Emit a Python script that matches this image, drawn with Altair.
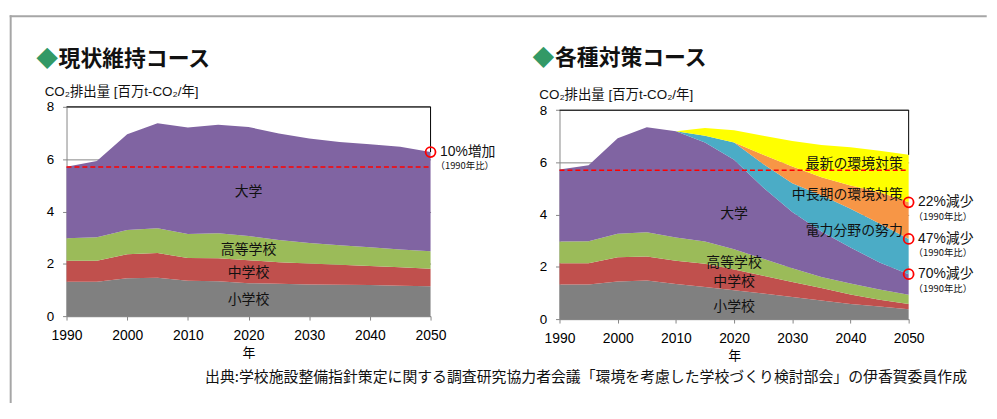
import altair as alt
import pandas as pd

# ---------------- data ----------------
years = [1990, 1995, 2000, 2005, 2010, 2015, 2020, 2025, 2030, 2035, 2040, 2045, 2050]
tick_years = years
y_ticks = [0, 2, 4, 6, 8]

series_names = ["小学校", "中学校", "高等学校", "大学",
                "電力分野の努力", "中長期の環境対策", "最新の環境対策"]
series_colors = ["#808080", "#C0504D", "#9BBB59", "#8064A2",
                 "#4BACC6", "#F79646", "#FFFF00"]

# 現状維持コース (million t-CO2 / year)
cur_elem = [1.31, 1.31, 1.45, 1.47, 1.35, 1.33, 1.26, 1.24, 1.21, 1.20, 1.19, 1.16, 1.14]
cur_jhs = [0.81, 0.81, 0.91, 0.94, 0.87, 0.88, 0.88, 0.82, 0.80, 0.76, 0.73, 0.71, 0.67]
cur_hs = [0.86, 0.89, 0.93, 0.95, 0.92, 0.96, 0.92, 0.85, 0.78, 0.75, 0.71, 0.68, 0.67]
cur_univ = [2.73, 2.92, 3.66, 4.01, 4.07, 4.14, 4.17, 4.07, 4.00, 3.95, 3.94, 3.92, 3.79]

# 各種対策コース
pol_elem = [1.32, 1.32, 1.44, 1.48, 1.34, 1.23, 1.10, 0.98, 0.85, 0.71, 0.58, 0.48, 0.38]
pol_jhs = [0.82, 0.82, 0.93, 0.92, 0.89, 0.89, 0.80, 0.68, 0.57, 0.48, 0.36, 0.26, 0.20]
pol_hs = [0.83, 0.84, 0.90, 0.93, 0.89, 0.85, 0.77, 0.65, 0.53, 0.42, 0.42, 0.39, 0.35]
pol_univ = [2.76, 2.91, 3.66, 4.02, 4.07, 3.79, 3.43, 2.73, 2.15, 1.74, 1.38, 1.04, 0.79]
pol_power = [0.0, 0.0, 0.0, 0.0, 0.0, 0.26, 0.66, 0.90, 1.10, 1.39, 1.49, 1.49, 1.35]
pol_mid = [0.0, 0.0, 0.0, 0.0, 0.0, 0.0, 0.0, 0.35, 0.64, 0.69, 0.89, 1.21, 1.40]
pol_new = [0.0, 0.0, 0.0, 0.0, 0.0, 0.30, 0.47, 0.73, 0.98, 1.24, 1.46, 1.58, 1.82]

baseline_1990 = 5.7

cur_label_names = ["大学", "高等学校", "中学校", "小学校"]
cur_label_years = [2020, 2020, 2020, 2020]
cur_label_values = [4.75, 2.51, 1.63, 0.61]

pol_label_names = ["大学", "高等学校", "中学校", "小学校"]
pol_label_years = [2020, 2020, 2020, 2020]
pol_label_values = [4.01, 2.15, 1.43, 0.47]

pol_rlabel_names = ["最新の環境対策", "中長期の環境対策", "電力分野の努力"]
pol_rlabel_years = [2049, 2049, 2049]
pol_rlabel_values = [5.95, 4.75, 3.38]

cur_note_texts = ["10%増加"]
pol_note_texts = ["22%減少", "47%減少", "70%減少"]
note_sub = "（1990年比）"

# ---------------- helpers ----------------
FONT_LAT = "Liberation Sans, Noto Sans CJK JP"
FONT_JP = "Noto Sans CJK JP"
AXIS_GRAY = "#868686"
DUMMY = alt.Data(values=[{"a": 1}])


def long_table(columns):
    rows = []
    for k, (name, vals) in enumerate(zip(series_names, columns)):
        for yr, v in zip(years, vals):
            rows.append({"year": yr, "series": name, "value": v, "ord": k})
    return pd.DataFrame(rows)


def stacked_top(columns, idx):
    return sum(col[idx] for col in columns)


x_axis = alt.Axis(values=tick_years, format="d",
                  labelExpr="datum.value % 10 == 0 ? datum.label : ''",
                  tickSize=4, tickColor=AXIS_GRAY, domainColor=AXIS_GRAY,
                  labelFont="Liberation Sans", labelFontSize=14, labelColor="black",
                  labelPadding=8.5, labelFlush=False, labelOverlap=False,
                  title="年", titleFont=FONT_JP, titleFontSize=13,
                  titleFontWeight="normal", titleColor="black", titlePadding=4,
                  grid=False)
y_axis = alt.Axis(values=y_ticks, format="d", tickSize=4, tickColor=AXIS_GRAY,
                  domainColor=AXIS_GRAY, labelFont="Liberation Sans",
                  labelFontSize=13.5, labelColor="black", labelPadding=9,
                  grid=True, gridColor=AXIS_GRAY, title=None)


def panel(columns, width, height, yrange, title, title_pos, diamond_pos, ytitle_pos,
          center_labels, right_labels, notes, note_values, top_2050, extra=None):
    xs = alt.Scale(domain=[1990, 2050], nice=False, zero=False)
    if yrange is None:
        ys = alt.Scale(domain=[0, 8], nice=False)
    else:
        ys = alt.Scale(domain=[0, 8], nice=False, range=yrange)

    df = long_table(columns)

    area = alt.Chart(df).mark_area(interpolate="linear", opacity=1).encode(
        x=alt.X("year:Q", scale=xs, axis=x_axis),
        y=alt.Y("value:Q", stack="zero", scale=ys, axis=y_axis),
        color=alt.Color("series:N", scale=alt.Scale(domain=series_names, range=series_colors),
                        legend=None),
        order=alt.Order("ord:Q", sort="ascending"))

    frame_top = alt.Chart(pd.DataFrame({"x": [1990], "x2": [2050], "y": [8]})).mark_rule(
        color="black", strokeWidth=1).encode(
        x=alt.X("x:Q", scale=xs), x2="x2:Q",
        y=alt.Y("y:Q", scale=ys))
    frame_right = alt.Chart(pd.DataFrame({"x": [2050], "y": [top_2050], "y2": [8]})).mark_rule(
        color="black", strokeWidth=1).encode(
        x=alt.X("x:Q", scale=xs),
        y=alt.Y("y:Q", scale=ys), y2="y2:Q")

    dashed = alt.Chart(pd.DataFrame({"x": [1990], "x2": [2050], "y": [baseline_1990]})).mark_rule(
        color="#FF0000", strokeWidth=1.3, strokeDash=[5, 3]).encode(
        x=alt.X("x:Q", scale=xs), x2="x2:Q",
        y=alt.Y("y:Q", scale=ys))

    layers = [area, frame_top, frame_right, dashed]

    names, yrs, vals = center_labels
    layers.append(alt.Chart(pd.DataFrame({"year": yrs, "value": vals, "label": names})).mark_text(
        font=FONT_JP, fontSize=14, color="#111111", align="center", baseline="middle").encode(
        x=alt.X("year:Q", scale=xs), y=alt.Y("value:Q", scale=ys),
        text="label:N"))
    if right_labels is not None:
        names, yrs, vals = right_labels
        layers.append(alt.Chart(pd.DataFrame({"year": yrs, "value": vals, "label": names})).mark_text(
            font=FONT_JP, fontSize=14, color="#111111", align="right", baseline="middle").encode(
            x=alt.X("year:Q", scale=xs), y=alt.Y("value:Q", scale=ys),
            text="label:N"))

    ndf = pd.DataFrame({"year": [2050] * len(notes), "value": note_values, "label": notes,
                        "sub": [note_sub] * len(notes)})
    layers.append(alt.Chart(ndf).mark_point(shape="circle", filled=False, size=100,
                                            strokeWidth=1.8, color="#FF0000", opacity=1).encode(
        x=alt.X("year:Q", scale=xs), y=alt.Y("value:Q", scale=ys)))
    layers.append(alt.Chart(ndf).mark_text(font=FONT_LAT, fontSize=14, color="#111111",
                                           align="left", baseline="middle", dx=9.5).encode(
        x=alt.X("year:Q", scale=xs), y=alt.Y("value:Q", scale=ys),
        text="label:N"))
    layers.append(alt.Chart(ndf).mark_text(font=FONT_JP, fontSize=9.5, color="#111111",
                                           align="left", baseline="middle", dx=5, dy=14.5).encode(
        x=alt.X("year:Q", scale=xs), y=alt.Y("value:Q", scale=ys),
        text="sub:N"))

    layers.append(alt.Chart(DUMMY).mark_text(text="◆", font=FONT_JP, fontSize=22,
                                             color="#339966", align="center",
                                             baseline="middle").encode(
        x=alt.value(diamond_pos[0]), y=alt.value(diamond_pos[1])))
    layers.append(alt.Chart(DUMMY).mark_text(text=title, font=FONT_JP, fontSize=22,
                                             fontWeight="bold", color="#111111", align="left",
                                             baseline="middle").encode(
        x=alt.value(title_pos[0]), y=alt.value(title_pos[1])))
    layers.append(alt.Chart(DUMMY).mark_text(text="CO₂排出量 [百万t-CO₂/年]", font=FONT_LAT,
                                             fontSize=13.5, color="#111111", align="left",
                                             baseline="middle").encode(
        x=alt.value(ytitle_pos[0]), y=alt.value(ytitle_pos[1])))
    if extra:
        layers.extend(extra)
    return alt.layer(*layers).properties(width=width, height=height)


cur_cols = [cur_elem, cur_jhs, cur_hs, cur_univ,
            [0.0] * len(years), [0.0] * len(years), [0.0] * len(years)]
pol_cols = [pol_elem, pol_jhs, pol_hs, pol_univ, pol_power, pol_mid, pol_new]

cur_note_values = [stacked_top(cur_cols, -1)]
pol_note_values = [stacked_top(pol_cols[:6], -1), stacked_top(pol_cols[:5], -1),
                   stacked_top(pol_cols[:4], -1)]

BORDER = "#A6A6A6"
extra_left = [
    alt.Chart(DUMMY).mark_text(
        text="出典:学校施設整備指針策定に関する調査研究協力者会議「環境を考慮した学校づくり検討部会」の伊香賀委員作成",
        font=FONT_JP, fontSize=15, color="#111111", align="left", baseline="middle").encode(
        x=alt.value(139.7), y=alt.value(272.5)),
    alt.Chart(DUMMY).mark_rule(color=BORDER, strokeWidth=2).encode(
        x=alt.value(-56.3), y=alt.value(-92.3), y2=alt.value(298.7)),
    alt.Chart(DUMMY).mark_rule(color=BORDER, strokeWidth=2).encode(
        x=alt.value(-57.3), x2=alt.value(927.7), y=alt.value(-91.3)),
]

left = panel(cur_cols, 367, 211, None, "現状維持コース", (-8, -48.3), (-19.5, -48.3),
             (-22, -15), (cur_label_names, cur_label_years, cur_label_values), None,
             cur_note_texts, cur_note_values, stacked_top(cur_cols, -1), extra_left)

right = panel(pol_cols, 352, 214, [214, 3.4], "各種対策コース", (-4.5, -49.3), (-16.2, -49.3),
              (-20.3, -11.5), (pol_label_names, pol_label_years, pol_label_values),
              (pol_rlabel_names, pol_rlabel_years, pol_rlabel_values),
              pol_note_texts, pol_note_values, stacked_top(pol_cols, -1))

chart = alt.hconcat(left, right, spacing=130, bounds="flush").properties(
    padding={"left": 0, "top": 4, "right": 0, "bottom": 0}
).configure_view(stroke="transparent")

chart.save("out.html", embed_options={"renderer": "svg", "actions": False})
